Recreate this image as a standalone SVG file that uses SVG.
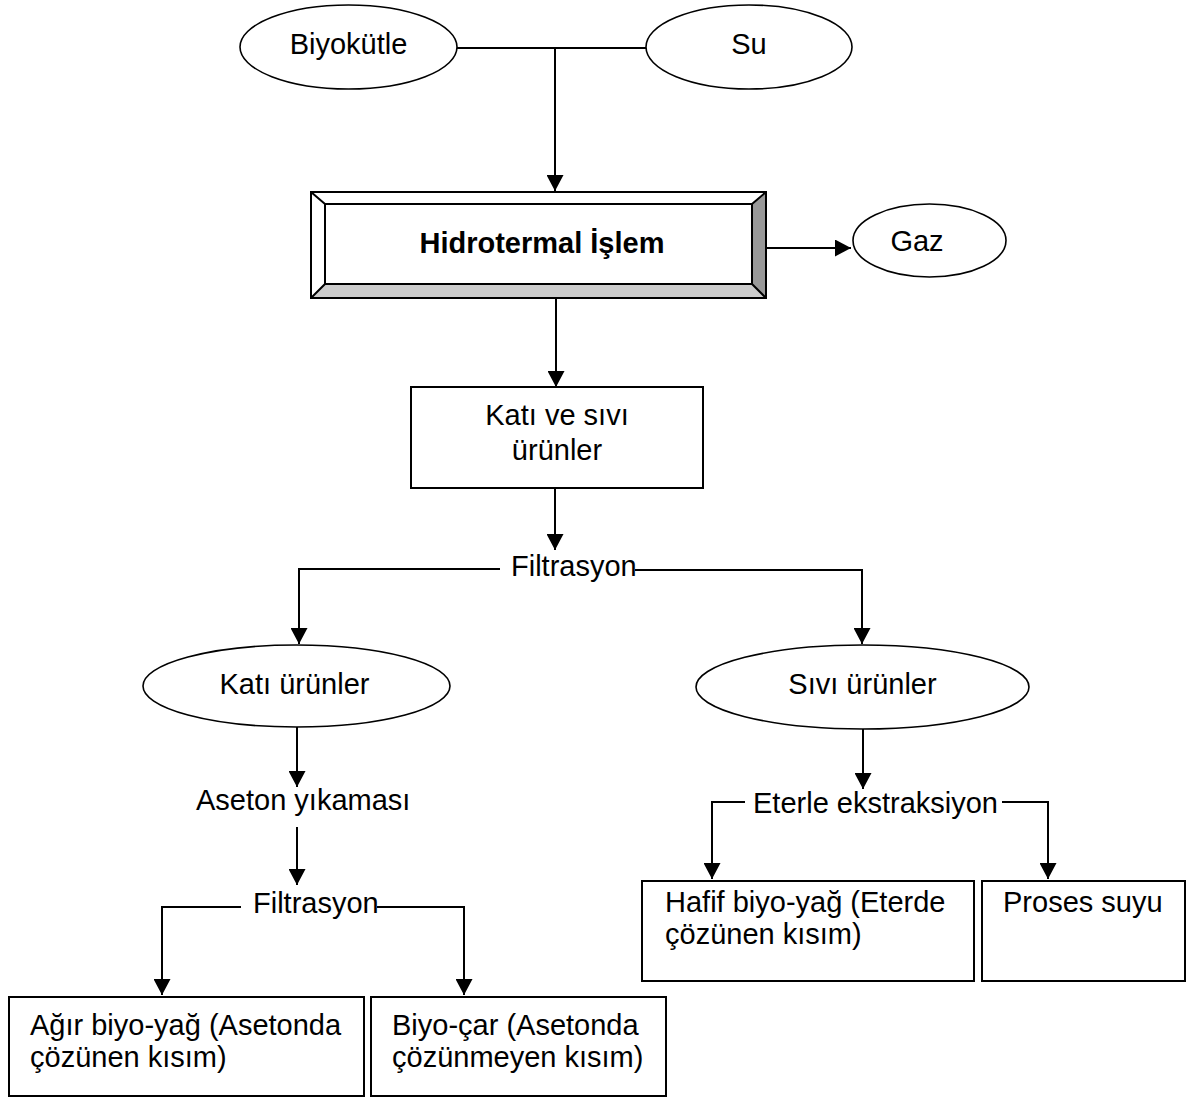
<svg xmlns="http://www.w3.org/2000/svg" width="1187" height="1098" viewBox="0 0 1187 1098">
<defs>
<marker id="ah" markerWidth="17" markerHeight="17" refX="16" refY="8.5" orient="auto" markerUnits="userSpaceOnUse"><path d="M0,0 L16,8.5 L0,17 z" fill="#000"/></marker>
<style>
text{font-family:"Liberation Sans",Arial,sans-serif;font-size:29px;fill:#000}
.c{text-anchor:middle}
.b{font-weight:bold}
.sh{fill:#fff;stroke:#000;stroke-width:1.6}
.bx{fill:#fff;stroke:#000;stroke-width:2}
.ol{fill:none;stroke:#000;stroke-width:2}
.ln{fill:none;stroke:#000;stroke-width:2}
.ar{fill:none;stroke:#000;stroke-width:2;marker-end:url(#ah)}
</style>
</defs>
<rect width="1187" height="1098" fill="#fff"/>
<g id="connectors">
<path class="ln" d="M457,48 H646"/>
<path class="ar" d="M555,48 V191"/>
<path class="ar" d="M766,248 H851"/>
<path class="ar" d="M556,298 V387"/>
<path class="ar" d="M555,488 V550"/>
<path class="ar" d="M500,569 H299 V644"/>
<path class="ar" d="M635,570 H862 V644"/>
<path class="ar" d="M297,727 V787"/>
<path class="ar" d="M297,827 V885"/>
<path class="ar" d="M241,907 H162 V995"/>
<path class="ar" d="M377,907 H464 V995"/>
<path class="ar" d="M863,729 V789"/>
<path class="ar" d="M745,802 H712 V879"/>
<path class="ar" d="M1002,802 H1048 V879"/>
</g>
<g id="biyokutle">
<ellipse class="sh" cx="348.5" cy="47" rx="108.5" ry="42"/>
<text class="c" x="348.5" y="54">Biyokütle</text>
</g>
<g id="su">
<ellipse class="sh" cx="749" cy="47" rx="103" ry="42"/>
<text class="c" x="749" y="54">Su</text>
</g>
<g id="hidrotermal">
<rect x="311" y="192" width="455" height="106" fill="#fff"/>
<polygon points="766,192 766,298 752,284 752,204" fill="#999"/>
<polygon points="311,298 766,298 752,284 325,284" fill="#ccc"/>
<rect class="ol" x="311" y="192" width="455" height="106"/>
<rect class="bx" x="325" y="204" width="427" height="80"/>
<path class="ln" d="M311,192 L325,204 M766,192 L752,204 M311,298 L325,284 M766,298 L752,284"/>
<text class="c b" x="542" y="253">Hidrotermal İşlem</text>
</g>
<g id="gaz">
<ellipse class="sh" cx="929.5" cy="240.5" rx="76.5" ry="36.5"/>
<text class="c" x="917" y="251">Gaz</text>
</g>
<g id="kati-ve-sivi">
<rect class="bx" x="411" y="387" width="292" height="101"/>
<text class="c" x="557" y="425">Katı ve sıvı</text>
<text class="c" x="557" y="460">ürünler</text>
</g>
<g id="filtrasyon1">
<text x="511" y="576">Filtrasyon</text>
</g>
<g id="kati-urunler">
<ellipse class="sh" cx="296.5" cy="686" rx="153.5" ry="41"/>
<text class="c" x="294.5" y="694">Katı ürünler</text>
</g>
<g id="sivi-urunler">
<ellipse class="sh" cx="862.5" cy="687" rx="166.5" ry="42"/>
<text class="c" x="862.5" y="694">Sıvı ürünler</text>
</g>
<g id="aseton">
<text x="196" y="810">Aseton yıkaması</text>
</g>
<g id="filtrasyon2">
<text x="253" y="913">Filtrasyon</text>
</g>
<g id="eterle">
<text x="753" y="813">Eterle ekstraksiyon</text>
</g>
<g id="hafif">
<rect class="bx" x="642" y="881" width="332" height="100"/>
<text x="665" y="912">Hafif biyo-yağ (Eterde</text>
<text x="665" y="944">çözünen kısım)</text>
</g>
<g id="proses">
<rect class="bx" x="982" y="881" width="203" height="100"/>
<text x="1003" y="912">Proses suyu</text>
</g>
<g id="agir">
<rect class="bx" x="9" y="997" width="355" height="99"/>
<text x="30" y="1035">Ağır biyo-yağ (Asetonda</text>
<text x="30" y="1067">çözünen kısım)</text>
</g>
<g id="biyocar">
<rect class="bx" x="371" y="997" width="295" height="99"/>
<text x="392" y="1035">Biyo-çar (Asetonda</text>
<text x="392" y="1067">çözünmeyen kısım)</text>
</g>
</svg>
